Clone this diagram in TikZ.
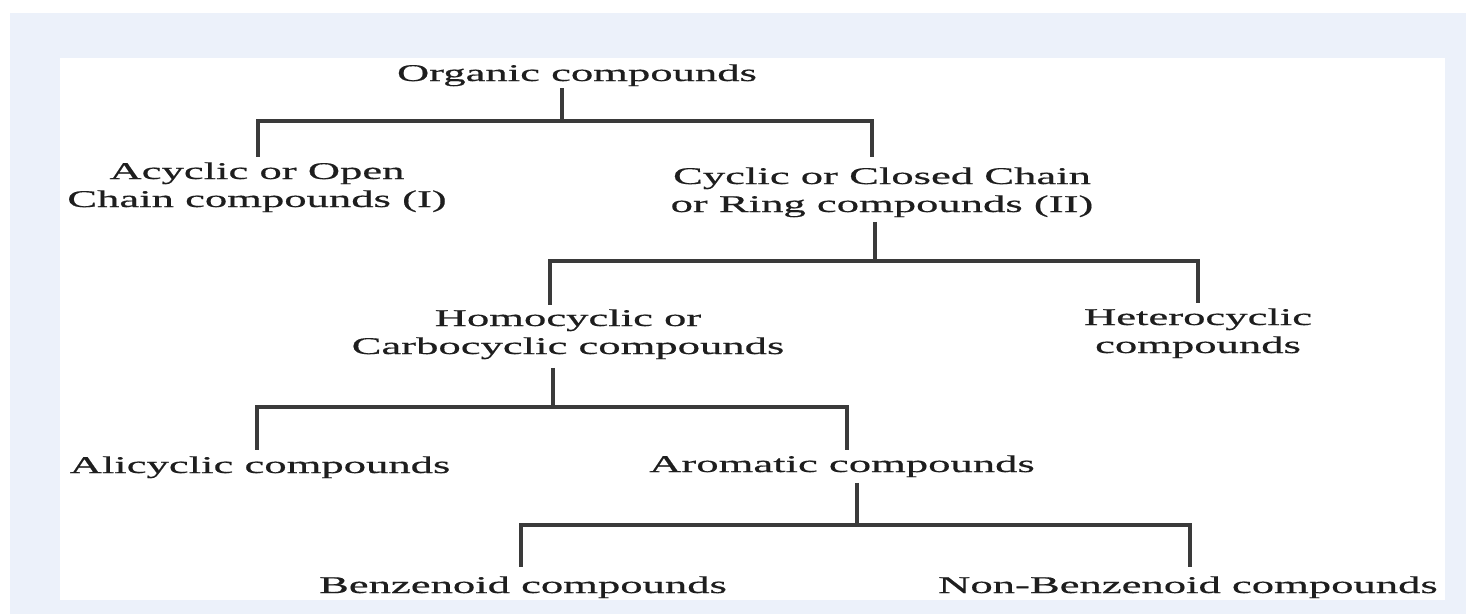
\documentclass[tikz,border=0pt]{standalone}
\usepackage{fontspec}
\newfontfamily\treefont[FakeStretch=1.86,FakeBold=0.6]{Liberation Serif}
\definecolor{bgblue}{HTML}{ECF1FA}
\definecolor{inkc}{HTML}{1E1E1E}
\definecolor{linec}{HTML}{3A3A3A}
\begin{document}
\begin{tikzpicture}[x=1pt,y=-1pt,
  lbl/.style={font=\treefont\fontsize{24}{28}\selectfont, text=inkc, inner sep=0pt, outer sep=0pt, align=center, anchor=base},
  conn/.style={draw=linec, line width=3.2pt}]
\useasboundingbox (0,0) rectangle (1466,614);
\fill[white] (0,0) rectangle (1466,614);
\fill[bgblue] (10,13) rectangle (1466,614);
\fill[white] (60,58) rectangle (1445,600);

% anchor=base is the baseline of the last line
\node[lbl] (org)  at (577,81)  {Organic compounds};
\node[lbl] (acy)  at (257,207) {Acyclic or Open\\Chain compounds (I)};
\node[lbl] (cyc)  at (882,212) {Cyclic or Closed Chain\\or Ring compounds (II)};
\node[lbl] (homo) at (568,354) {Homocyclic or\\Carbocyclic compounds};
\node[lbl] (het)  at (1198,353) {Heterocyclic\\compounds};
\node[lbl] (ali)  at (260,473) {Alicyclic compounds};
\node[lbl] (aro)  at (842,472) {Aromatic compounds};
\node[lbl] (ben)  at (523,593) {Benzenoid compounds};
\node[lbl] (nonb) at (1188,593) {Non-Benzenoid compounds};

% level 1
\coordinate (j1)  at (562,121);
\coordinate (j1l) at (258,121);
\coordinate (j1r) at (872,121);
\draw[conn, shorten <=2pt] (org.south -| j1) -- (j1);
\draw[conn, shorten <=5.6pt, shorten >=10.6pt] (acy.north -| j1l) -- (j1l) -- (j1r) -- (cyc.north -| j1r);

% level 2
\coordinate (j2)  at (875,261);
\coordinate (j2l) at (550,261);
\coordinate (j2r) at (1198,261);
\draw[conn, shorten <=4.8pt] (cyc.south -| j2) -- (j2);
\draw[conn, shorten <=4.6pt, shorten >=5.6pt] (homo.north -| j2l) -- (j2l) -- (j2r) -- (het.north -| j2r);

% level 3
\coordinate (j3)  at (553,407);
\coordinate (j3l) at (257,407);
\coordinate (j3r) at (847,407);
\draw[conn, shorten <=8.8pt] (homo.south -| j3) -- (j3);
\draw[conn, shorten <=6.6pt, shorten >=5.6pt] (ali.north -| j3l) -- (j3l) -- (j3r) -- (aro.north -| j3r);

% level 4
\coordinate (j4)  at (857,525);
\coordinate (j4l) at (521,525);
\coordinate (j4r) at (1190,525);
\draw[conn, shorten <=5.8pt] (aro.south -| j4) -- (j4);
\draw[conn, shorten <=9.6pt, shorten >=9.6pt] (ben.north -| j4l) -- (j4l) -- (j4r) -- (nonb.north -| j4r);
\end{tikzpicture}
\end{document}
